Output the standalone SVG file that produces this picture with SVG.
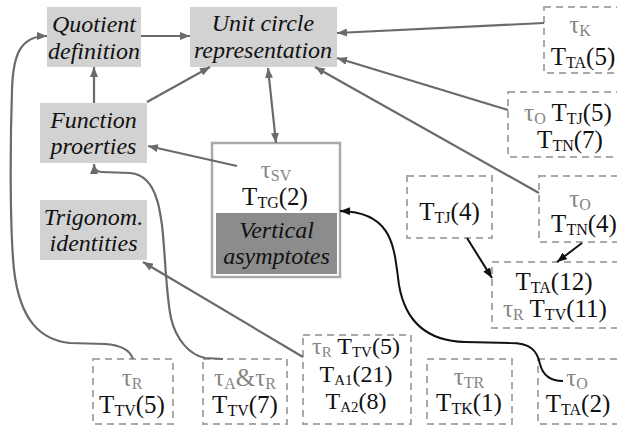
<svg xmlns="http://www.w3.org/2000/svg" width="617" height="427" viewBox="0 0 617 427">
  <style>
    .topic { fill: #d2d2d2; }
    .lbl { font-family: 'Liberation Serif', 'DejaVu Serif', serif; font-style: italic; font-size: 24px; fill: #111; text-anchor: middle; }
    .dash { fill: #fff; stroke: #aaa; stroke-width: 2; stroke-dasharray: 7 5; }
    .tx { font-family: 'Liberation Serif', 'DejaVu Serif', serif; font-size: 25px; fill: #111; text-anchor: middle; }
    .tx.tight { font-size: 24px; }
    .sub { font-size: 16px; }
    .tight .sub { font-size: 15px; }
    .tau { fill: #858585; }
    .edge { fill: none; stroke: #6a6a6a; stroke-width: 2.2; }
    .edge-k { fill: none; stroke: #111; stroke-width: 2; }
  </style>
  <defs>
    <marker id="ah" markerUnits="userSpaceOnUse" markerWidth="10" markerHeight="8" refX="10" refY="4" orient="auto-start-reverse">
      <path d="M0,0 L10,4 L0,8 z" fill="#6a6a6a"/>
    </marker>
    <marker id="ahk" markerUnits="userSpaceOnUse" markerWidth="10" markerHeight="8" refX="10" refY="4" orient="auto">
      <path d="M0,0 L10,4 L0,8 z" fill="#111"/>
    </marker>
  </defs>
  <rect width="617" height="427" fill="#fff"/>

  <!-- topic nodes -->
  <g id="quotient">
    <rect class="topic" x="47" y="7" width="94" height="60"/>
    <text class="lbl" x="94" y="32">Quotient</text>
    <text class="lbl" x="94" y="59">definition</text>
  </g>
  <g id="unit-circle">
    <rect class="topic" x="190" y="7" width="147" height="60"/>
    <text class="lbl" x="263" y="31">Unit circle</text>
    <text class="lbl" x="263" y="58">representation</text>
  </g>
  <g id="function-properties">
    <rect class="topic" x="40" y="103" width="107" height="60"/>
    <text class="lbl" x="93.5" y="128">Function</text>
    <text class="lbl" x="93.5" y="154">proerties</text>
  </g>
  <g id="trig-identities">
    <rect class="topic" x="40" y="200" width="107" height="60"/>
    <text class="lbl" x="93.5" y="225">Trigonom.</text>
    <text class="lbl" x="93.5" y="251">identities</text>
  </g>
  <g id="vertical-asymptotes">
    <rect x="212" y="143" width="128" height="134" fill="#fff" stroke="#aaa" stroke-width="2.5"/>
    <text class="tx" x="276" y="178"><tspan class="tau">τ<tspan class="sub" dy="3">SV</tspan></tspan></text>
    <text class="tx" x="275" y="205">T<tspan class="sub" dy="3">TG</tspan><tspan dy="-3">(2)</tspan></text>
    <rect x="216" y="213" width="121" height="61" fill="#8c8c8c"/>
    <text class="lbl" x="276.5" y="238">Vertical</text>
    <text class="lbl" x="276.5" y="264">asymptotes</text>
  </g>

  <!-- task nodes -->
  <g id="task-k-ta5">
    <rect class="dash" x="544" y="7" width="80" height="66"/>
    <text class="tx" x="580" y="33"><tspan class="tau">τ<tspan class="sub" dy="3">K</tspan></tspan></text>
    <text class="tx" x="583" y="65">T<tspan class="sub" dy="3">TA</tspan><tspan dy="-3">(5)</tspan></text>
  </g>
  <g id="task-o-tj5">
    <rect class="dash" x="508" y="92" width="116" height="65"/>
    <text class="tx" x="568" y="121"><tspan class="tau">τ<tspan class="sub" dy="3">O</tspan></tspan><tspan dy="-3"> T</tspan><tspan class="sub" dy="3">TJ</tspan><tspan dy="-3">(5)</tspan></text>
    <text class="tx" x="570" y="148">T<tspan class="sub" dy="3">TN</tspan><tspan dy="-3">(7)</tspan></text>
  </g>
  <g id="task-tj4">
    <rect class="dash" x="407" y="176" width="85" height="62"/>
    <text class="tx" x="449.5" y="220">T<tspan class="sub" dy="3">TJ</tspan><tspan dy="-3">(4)</tspan></text>
  </g>
  <g id="task-o-tn4">
    <rect class="dash" x="539" y="176" width="85" height="66"/>
    <text class="tx" x="580" y="207"><tspan class="tau">τ<tspan class="sub" dy="3">O</tspan></tspan></text>
    <text class="tx" x="584" y="232">T<tspan class="sub" dy="3">TN</tspan><tspan dy="-3">(4)</tspan></text>
  </g>
  <g id="task-ta12">
    <rect class="dash" x="492" y="262" width="132" height="66"/>
    <text class="tx" x="554" y="290">T<tspan class="sub" dy="3">TA</tspan><tspan dy="-3">(12)</tspan></text>
    <text class="tx" x="555" y="317"><tspan class="tau">τ<tspan class="sub" dy="3">R</tspan></tspan><tspan dy="-3"> T</tspan><tspan class="sub" dy="3">TV</tspan><tspan dy="-3">(11)</tspan></text>
  </g>
  <g id="task-r-tv5">
    <rect class="dash" x="93" y="359" width="80" height="65"/>
    <text class="tx" x="132" y="386"><tspan class="tau">τ<tspan class="sub" dy="3">R</tspan></tspan></text>
    <text class="tx" x="132" y="413">T<tspan class="sub" dy="3">TV</tspan><tspan dy="-3">(5)</tspan></text>
  </g>
  <g id="task-ar-tv7">
    <rect class="dash" x="203" y="359" width="84" height="65"/>
    <text class="tx" x="245" y="386"><tspan class="tau">τ<tspan class="sub" dy="3">A</tspan><tspan dy="-3">&amp;τ</tspan><tspan class="sub" dy="3">R</tspan></tspan></text>
    <text class="tx" x="245" y="413">T<tspan class="sub" dy="3">TV</tspan><tspan dy="-3">(7)</tspan></text>
  </g>
  <g id="task-r-a1-a2">
    <rect class="dash" x="303" y="335" width="108" height="89"/>
    <text class="tx tight" x="356" y="354"><tspan class="tau">τ<tspan class="sub" dy="3">R</tspan></tspan><tspan dy="-3"> T</tspan><tspan class="sub" dy="3">TV</tspan><tspan dy="-3">(5)</tspan></text>
    <text class="tx tight" x="356" y="382">T<tspan class="sub" dy="3">A1</tspan><tspan dy="-3">(21)</tspan></text>
    <text class="tx tight" x="356" y="409">T<tspan class="sub" dy="3">A2</tspan><tspan dy="-3">(8)</tspan></text>
  </g>
  <g id="task-tr-tk1">
    <rect class="dash" x="427" y="359" width="85" height="65"/>
    <text class="tx" x="469" y="385"><tspan class="tau">τ<tspan class="sub" dy="3">TR</tspan></tspan></text>
    <text class="tx" x="469" y="411">T<tspan class="sub" dy="3">TK</tspan><tspan dy="-3">(1)</tspan></text>
  </g>
  <g id="task-o-ta2">
    <rect class="dash" x="538" y="359" width="86" height="65"/>
    <text class="tx" x="577" y="386"><tspan class="tau">τ<tspan class="sub" dy="3">O</tspan></tspan></text>
    <text class="tx" x="578" y="412">T<tspan class="sub" dy="3">TA</tspan><tspan dy="-3">(2)</tspan></text>
  </g>

  <!-- connectors -->
  <g id="connectors">
    <path class="edge" d="M141,36 L190,36" marker-end="url(#ah)"/>
    <path class="edge" d="M94,103 L94,67" marker-end="url(#ah)"/>
    <path class="edge" d="M147,102 L210,67" marker-end="url(#ah)"/>
    <path class="edge" d="M268,68 L276,143" marker-start="url(#ah)" marker-end="url(#ah)"/>
    <path class="edge" d="M237,166 L148,146" marker-end="url(#ah)"/>
    <path class="edge" d="M544,23 L337,33" marker-end="url(#ah)"/>
    <path class="edge" d="M508,110 L337,58" marker-end="url(#ah)"/>
    <path class="edge" d="M539,193 L315,67" marker-end="url(#ah)"/>
    <path class="edge" d="M303,357 L143,262" marker-end="url(#ah)"/>
    <path class="edge" d="M133,359 C130,350 122,345 105,344 L70,343 C40,340 20,320 14,270 C10,230 10,150 12,90 C13,55 20,36 47,36" marker-end="url(#ah)"/>
    <path class="edge" d="M223,359 L205,358 C190,355 176,340 171,318 C166,295 165,250 162,225 C160,212 159,205 157,200 C152,183 143,174 130,173 L102,172 C97,172 94,170 94,164" marker-end="url(#ah)"/>
    <path class="edge-k" d="M467,238 L492,278" marker-end="url(#ahk)"/>
    <path class="edge-k" d="M582,243 L557,262" marker-end="url(#ahk)"/>
    <path class="edge-k" d="M563,381 C548,381 542,372 540,364 C537,350 530,343 510,343 L465,342 C425,341 405,320 399,285 C394,250 395,212 340,211" marker-end="url(#ahk)"/>
  </g>
</svg>
